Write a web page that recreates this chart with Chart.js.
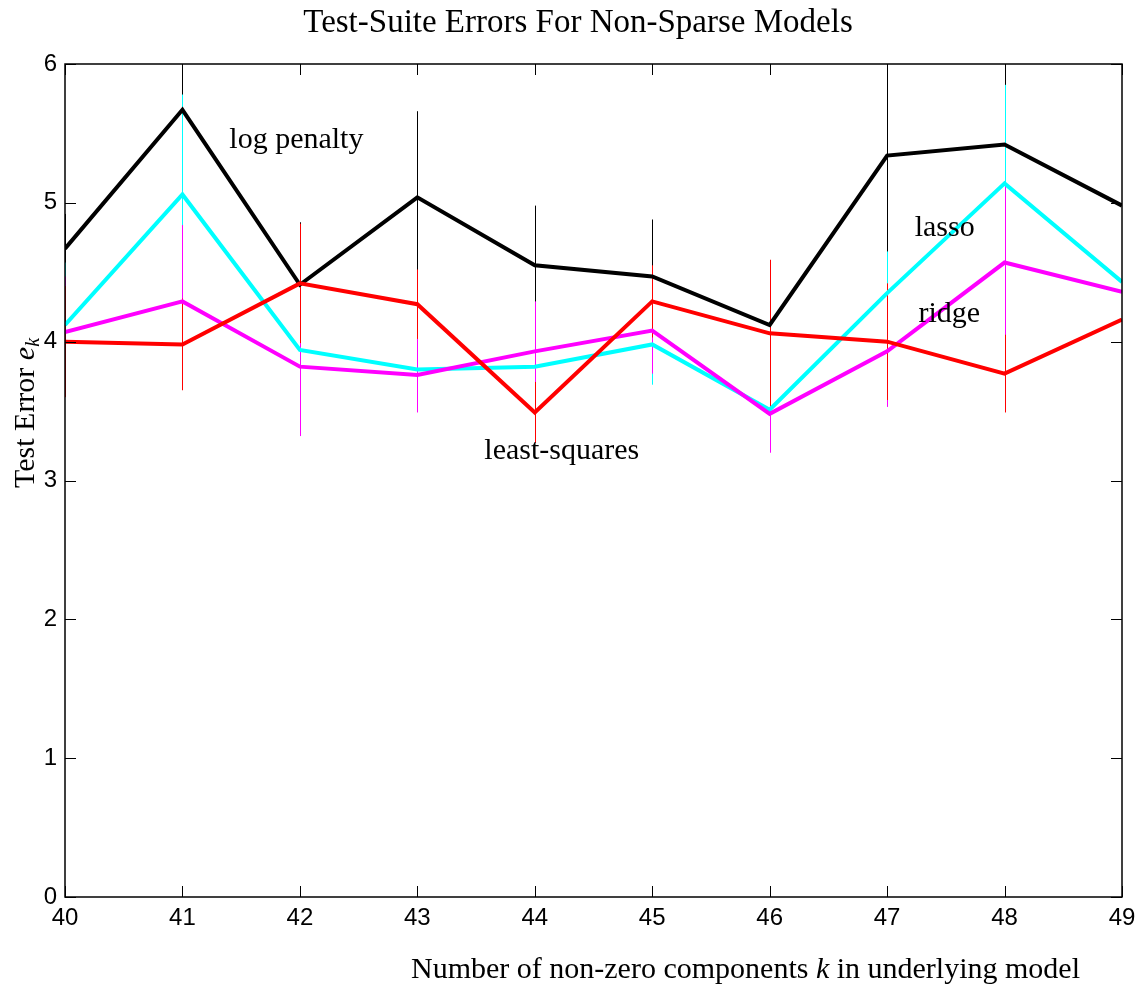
<!DOCTYPE html>
<html>
<head>
<meta charset="utf-8">
<script src="https://cdn.jsdelivr.net/npm/chart.js@4/dist/chart.umd.min.js"></script>
<style>
  html, body { margin: 0; padding: 0; background: #fff; }
  #wrap { width: 1138px; height: 988px; }
</style>
</head>
<body>
<div id="wrap"><canvas id="errChart" width="1138" height="988"></canvas></div>
<script>
// k values on the x axis
const kValues = [40, 41, 42, 43, 44, 45, 46, 47, 48, 49];
const yTicks = [0, 1, 2, 3, 4, 5, 6];

// mean test error per method
const logPenalty   = [4.67, 5.67, 4.41, 5.04, 4.55, 4.47, 4.12, 5.34, 5.42, 4.98];
const lasso        = [4.12, 5.06, 3.94, 3.80, 3.82, 3.98, 3.51, 4.35, 5.14, 4.43];
const ridge        = [4.07, 4.29, 3.82, 3.76, 3.93, 4.08, 3.48, 3.93, 4.57, 4.36];
const leastSquares = [4.00, 3.98, 4.42, 4.27, 3.49, 4.29, 4.06, 4.00, 3.77, 4.16];

// half-length of the error bars
const logPenaltyErr   = [0.25, 0.60, 0.45, 0.62, 0.43, 0.41, 0.38, 0.75, 0.70, 0.50];
const lassoErr        = [0.45, 0.72, 0.40, 0.30, 0.30, 0.29, 0.25, 0.30, 0.71, 0.40];
const ridgeErr        = [0.40, 0.55, 0.50, 0.27, 0.36, 0.31, 0.28, 0.40, 0.55, 0.37];
const leastSquaresErr = [0.40, 0.33, 0.43, 0.25, 0.22, 0.26, 0.53, 0.42, 0.28, 0.51];

const seriesNames = ["log penalty", "lasso", "ridge", "least-squares"];
const seriesColors = ["#000000", "#00ffff", "#ff00ff", "#ff0000"];
// where the curve names sit, in data units
const labelX = [41.97, 47.49, 47.53, 44.23];
const labelY = [5.45, 4.82, 4.20, 3.21];

const toPoints = (vals) => vals.map((v, i) => ({ x: kValues[i], y: v }));

const serif = "'Liberation Serif', 'DejaVu Serif', serif";
const sans = "'Liberation Sans', Arial, sans-serif";

// error bars, drawn under the lines
const errorBars = {
    id: "errorBars",
    beforeDatasetsDraw(chart) {
        const { ctx, chartArea, scales: { x, y } } = chart;
        ctx.save();
        ctx.beginPath();
        ctx.rect(chartArea.left, chartArea.top, chartArea.right - chartArea.left, chartArea.bottom - chartArea.top);
        ctx.clip();
        ctx.lineWidth = 1;
        chart.data.datasets.forEach((ds) => {
            ctx.strokeStyle = ds.borderColor;
            ds.data.forEach((p, i) => {
                const e = ds.errors[i];
                const px = Math.round(x.getPixelForValue(p.x)) + 0.5;
                ctx.beginPath();
                ctx.moveTo(px, y.getPixelForValue(p.y - e));
                ctx.lineTo(px, y.getPixelForValue(p.y + e));
                ctx.stroke();
            });
        });
        ctx.restore();
    },
};

// box, inward ticks, titles and labels
const frameAndText = {
    id: "frameAndText",
    afterDraw(chart) {
        const { ctx, chartArea: a, scales: { x, y } } = chart;
        ctx.save();
        ctx.strokeStyle = "#000";
        ctx.lineWidth = 1.5;
        ctx.strokeRect(a.left, a.top, a.right - a.left, a.bottom - a.top);

        ctx.lineWidth = 1;
        const tl = 11;
        kValues.forEach((k) => {
            const px = Math.round(x.getPixelForValue(k)) + 0.5;
            ctx.beginPath();
            ctx.moveTo(px, a.bottom); ctx.lineTo(px, a.bottom - tl);
            ctx.moveTo(px, a.top); ctx.lineTo(px, a.top + tl);
            ctx.stroke();
        });
        yTicks.forEach((t) => {
            const py = Math.round(y.getPixelForValue(t)) + 0.5;
            ctx.beginPath();
            ctx.moveTo(a.left, py); ctx.lineTo(a.left + tl, py);
            ctx.moveTo(a.right, py); ctx.lineTo(a.right - tl, py);
            ctx.stroke();
        });

        ctx.fillStyle = "#000";
        ctx.textBaseline = "alphabetic";

        // title
        ctx.font = "33px " + serif;
        ctx.textAlign = "center";
        ctx.fillText("Test-Suite Errors For Non-Sparse Models", 578, 32);

        // x axis title, right end near x=1080
        ctx.textAlign = "left";
        const p1 = "Number of non-zero components ";
        const p2 = "k";
        const p3 = " in underlying model";
        ctx.font = "30px " + serif;
        const w1 = ctx.measureText(p1).width;
        const w3 = ctx.measureText(p3).width;
        ctx.font = "italic 30px " + serif;
        const w2 = ctx.measureText(p2).width;
        let sx = 1080 - (w1 + w2 + w3);
        ctx.font = "30px " + serif;
        ctx.fillText(p1, sx, 978);
        ctx.font = "italic 30px " + serif;
        ctx.fillText(p2, sx + w1, 978);
        ctx.font = "30px " + serif;
        ctx.fillText(p3, sx + w1 + w2, 978);

        // y axis title, reading upward from y=488
        ctx.translate(34, 488);
        ctx.rotate(-Math.PI / 2);
        ctx.font = "30px " + serif;
        const yt = "Test Error ";
        const wy = ctx.measureText(yt).width;
        ctx.font = "italic 30px " + serif;
        const we = ctx.measureText("e").width;
        ctx.font = "30px " + serif;
        ctx.fillText(yt, 0, 0);
        ctx.font = "italic 30px " + serif;
        ctx.fillText("e", wy, 0);
        ctx.font = "italic 20px " + serif;
        ctx.fillText("k", wy + we, 5);
        ctx.restore();

        // curve labels placed in data coordinates
        ctx.save();
        ctx.fillStyle = "#000";
        ctx.font = "30px " + serif;
        ctx.textAlign = "center";
        ctx.textBaseline = "middle";
        seriesNames.forEach((n, i) => {
            ctx.fillText(n, x.getPixelForValue(labelX[i]), y.getPixelForValue(labelY[i]));
        });
        ctx.restore();
    },
};

const ctx = document.getElementById("errChart").getContext("2d");

window.errChart = new Chart(ctx, {
    type: "line",
    data: {
        datasets: [
            { label: seriesNames[0], data: toPoints(logPenalty), errors: logPenaltyErr, borderColor: seriesColors[0], order: 4 },
            { label: seriesNames[1], data: toPoints(lasso), errors: lassoErr, borderColor: seriesColors[1], order: 3 },
            { label: seriesNames[2], data: toPoints(ridge), errors: ridgeErr, borderColor: seriesColors[2], order: 2 },
            { label: seriesNames[3], data: toPoints(leastSquares), errors: leastSquaresErr, borderColor: seriesColors[3], order: 1 },
        ],
    },
    options: {
        responsive: false,
        animation: false,
        layout: { padding: { top: 64, right: 16, left: 0, bottom: 0 } },
        elements: {
            line: { borderWidth: 4, tension: 0, fill: false, borderJoinStyle: "miter" },
            point: { radius: 0 },
        },
        scales: {
            x: {
                type: "linear",
                min: 40,
                max: 49,
                afterFit: (s) => { s.height = 91; s.paddingRight = 0; s.paddingLeft = 0; },
                afterBuildTicks: (s) => { s.ticks = kValues.map((v) => ({ value: v })); },
                grid: { display: false, drawTicks: false },
                border: { display: false },
                ticks: { color: "#000", font: { family: sans, size: 24 }, padding: 7, maxRotation: 0 },
            },
            y: {
                min: 0,
                max: 6,
                afterFit: (s) => { s.width = 65; s.paddingTop = 0; s.paddingBottom = 0; },
                afterBuildTicks: (s) => { s.ticks = yTicks.map((v) => ({ value: v })); },
                grid: { display: false, drawTicks: false },
                border: { display: false },
                ticks: { color: "#000", font: { family: sans, size: 24 }, padding: 8 },
            },
        },
        plugins: {
            legend: { display: false },
            title: { display: false },
            tooltip: { enabled: false },
        },
    },
    plugins: [errorBars, frameAndText],
});
</script>
</body>
</html>
